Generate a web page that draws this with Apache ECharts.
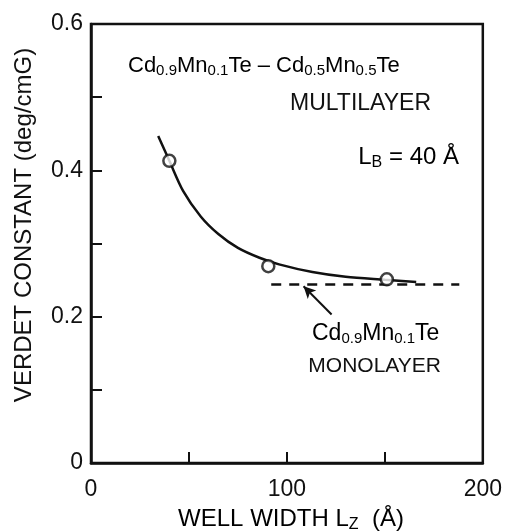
<!DOCTYPE html>
<html>
<head>
<meta charset="utf-8">
<script src="https://cdn.jsdelivr.net/npm/echarts@6/dist/echarts.min.js"></script>
<style>html,body{margin:0;padding:0;background:#fff}#c{width:505px;height:532px}</style>
</head>
<body>
<div id="c"></div>
<script>
// Measured points (hollow circles)
const pointX = [40, 90.5, 151];
const pointY = [0.413, 0.269, 0.251];
// Fitted curve
const curveX = [34.3, 40, 47, 56, 65, 75, 86, 96, 113, 130, 150, 166];
const curveY = [0.447, 0.413, 0.372, 0.337, 0.313, 0.294, 0.2805, 0.2715, 0.261, 0.2545, 0.2505, 0.2475];
// Monolayer reference (dashed)
const monoX = [92, 188];
const monoY = [0.244, 0.244];
// Arrow (annotation) from label to dashed line
const arrowFrom = [122.8, 0.203];
const arrowTo = [108.5, 0.2415];
// Axis ticks
const xTicks = [0, 100, 200];
const yTicks = [0, 0.2, 0.4, 0.6];

const zip = (a, b) => a.map((v, i) => [v, b[i]]);
const chart = echarts.init(document.getElementById('c'), null, {renderer: 'canvas'});
const FONT = 'Liberation Sans';
const sub = {fontSize: 15, fontFamily: FONT, color: '#111', padding: [10, 0, 0, 0]};
const main = {fontSize: 22, fontFamily: FONT, color: '#111'};
const big = {fontSize: 24, fontFamily: FONT, color: '#111'};
const bigSub = {fontSize: 16, fontFamily: FONT, color: '#111', padding: [11, 0, 0, 0]};

chart.setOption({
  backgroundColor: '#fff',
  animation: false,
  grid: {left: 91, right: 22, top: 24, bottom: 69, show: true, borderColor: '#111', borderWidth: 2.5, backgroundColor: 'transparent'},
  xAxis: {
    type: 'value', min: xTicks[0], max: xTicks[xTicks.length - 1], interval: 100,
    axisLine: {lineStyle: {color: '#111', width: 2.5}},
    axisTick: {show: true, inside: true, length: 11, lineStyle: {color: '#111', width: 2}},
    minorTick: {show: true, splitNumber: 2, length: 11, lineStyle: {color: '#111', width: 2}},
    splitLine: {show: false},
    axisLabel: {color: '#111', fontSize: 23, fontFamily: FONT, margin: 15}
  },
  yAxis: {
    type: 'value', min: yTicks[0], max: yTicks[yTicks.length - 1], interval: 0.2,
    axisLine: {lineStyle: {color: '#111', width: 2.5}},
    axisTick: {show: true, inside: true, length: 11, lineStyle: {color: '#111', width: 2}},
    minorTick: {show: true, splitNumber: 2, length: 11, lineStyle: {color: '#111', width: 2}},
    splitLine: {show: false},
    axisLabel: {color: '#111', fontSize: 23, fontFamily: FONT, margin: 8,
      formatter: v => v === 0 ? '0' : v.toFixed(1)}
  },
  series: [
    {
      type: 'line', data: zip(curveX, curveY), smooth: 0.3, symbol: 'none',
      lineStyle: {color: '#111', width: 2.5}, z: 2
    },
    {
      type: 'line', data: zip(monoX, monoY), symbol: 'none',
      lineStyle: {color: '#111', width: 2.5, type: [10, 8]}, z: 2,
      markLine: {
        silent: true, symbol: ['none', 'arrow'], symbolSize: [9, 12],
        label: {show: false},
        lineStyle: {color: '#111', width: 2, type: 'solid'},
        data: [[{coord: arrowFrom}, {coord: arrowTo}]]
      }
    },
    {
      type: 'scatter', data: zip(pointX, pointY), symbol: 'circle', symbolSize: 12,
      itemStyle: {color: '#fff', borderColor: '#111', borderWidth: 2.5}, z: 3
    }
  ],
  graphic: [
    {type: 'text', x: 24, y: 225, rotation: Math.PI / 2,
      style: {text: 'VERDET CONSTANT (deg/cmG)', font: '24px ' + FONT, fill: '#111', textAlign: 'center', textVerticalAlign: 'middle'}},
    {type: 'text', x: 291, y: 519,
      style: {text: '{m|WELL WIDTH L}{s|Z}{m|  (Å)}', rich: {m: big, s: bigSub}, textAlign: 'center', textVerticalAlign: 'middle'}},
    {type: 'text', x: 128, y: 66,
      style: {text: '{m|Cd}{s|0.9}{m|Mn}{s|0.1}{m|Te – Cd}{s|0.5}{m|Mn}{s|0.5}{m|Te}', rich: {m: main, s: sub}, textAlign: 'left', textVerticalAlign: 'middle'}},
    {type: 'text', x: 431, y: 104,
      style: {text: 'MULTILAYER', font: '23px ' + FONT, fill: '#111', textAlign: 'right', textVerticalAlign: 'middle'}},
    {type: 'text', x: 459, y: 157,
      style: {text: '{m|L}{s|B}{m| = 40 Å}', rich: {m: big, s: bigSub}, textAlign: 'right', textVerticalAlign: 'middle'}},
    {type: 'text', x: 312, y: 334,
      style: {text: '{m|Cd}{s|0.9}{m|Mn}{s|0.1}{m|Te}', rich: {m: {fontSize: 23, fontFamily: FONT, color: '#111'}, s: sub}, textAlign: 'left', textVerticalAlign: 'middle'}},
    {type: 'text', x: 441, y: 366,
      style: {text: 'MONOLAYER', font: '21px ' + FONT, fill: '#111', textAlign: 'right', textVerticalAlign: 'middle'}}
  ]
});
</script>
</body>
</html>
